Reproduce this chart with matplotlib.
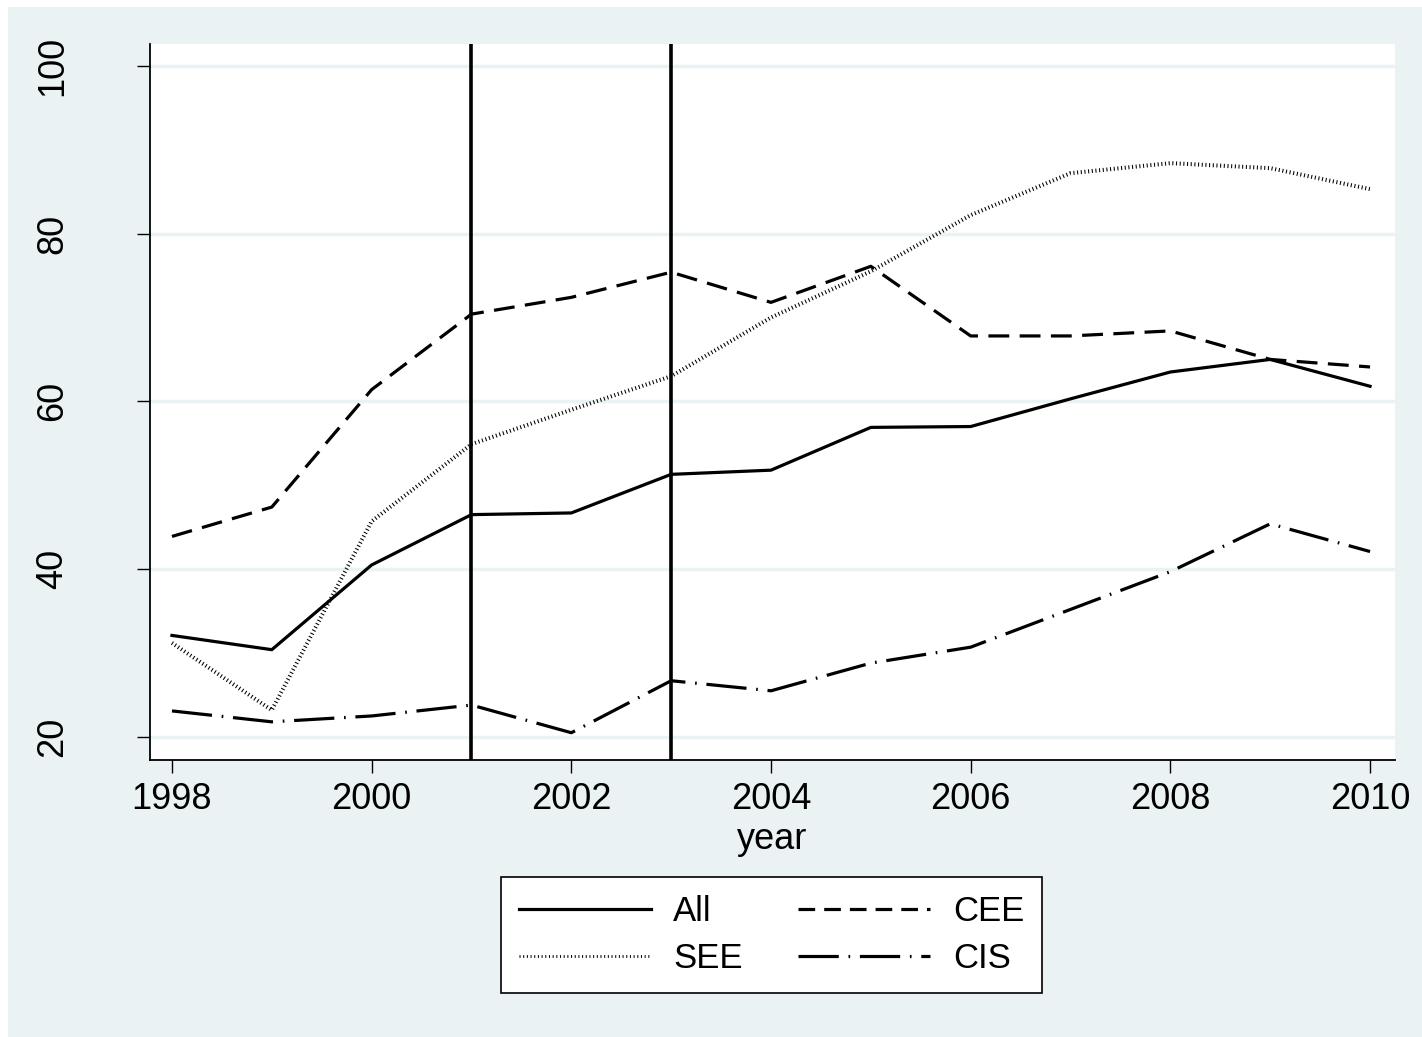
import matplotlib
matplotlib.use("Agg")
import matplotlib.pyplot as plt
from matplotlib.patches import Rectangle
from matplotlib.lines import Line2D

years = list(range(1998, 2011))
all_vals = [32.1, 30.4, 40.5, 46.5, 46.7, 51.3, 51.8, 56.9, 57.0, 60.3, 63.5, 65.0, 61.8]
cee_vals = [43.9, 47.4, 61.4, 70.4, 72.4, 75.4, 71.8, 76.1, 67.8, 67.8, 68.4, 65.0, 64.1]
see_vals = [31.2, 23.2, 45.7, 54.9, 59.0, 63.0, 70.0, 75.5, 82.2, 87.2, 88.4, 87.8, 85.3]
cis_vals = [23.1, 21.8, 22.5, 23.8, 20.5, 26.7, 25.5, 28.8, 30.7, 35.2, 39.7, 45.4, 42.1]
event_years = [2001, 2003]
x_ticks = [1998, 2000, 2002, 2004, 2006, 2008, 2010]
y_ticks = [20, 40, 60, 80, 100]

BG = "#EAF2F3"
plt.rcParams["font.family"] = ["Liberation Sans", "DejaVu Sans"]
plt.rcParams["lines.scale_dashes"] = False

fig = plt.figure(figsize=(14.22, 10.37), dpi=100)
fig.patch.set_facecolor("white")
fig.add_artist(Rectangle((8 / 1422, 0), 1 - 8 / 1422, 1 - 7 / 1037,
                         transform=fig.transFigure, facecolor=BG,
                         edgecolor="none", zorder=-10))

ax = fig.add_axes([150 / 1422, 1 - 760 / 1037, 1245 / 1422, 716 / 1037])
ax.set_facecolor("white")
ax.set_xlim(1997.78, 2010.25)
ax.set_ylim(17.25, 102.6)

for s in ["top", "right"]:
    ax.spines[s].set_visible(False)
for s in ["left", "bottom"]:
    ax.spines[s].set_linewidth(1.3)
    ax.spines[s].set_color("black")

ax.set_yticks(y_ticks)
ax.set_xticks(x_ticks)
ax.set_yticklabels([str(v) for v in y_ticks], rotation=90, va="center")
ax.tick_params(axis="both", labelsize=26, length=9.5, width=1.0)
ax.tick_params(axis="x", pad=6)
ax.tick_params(axis="y", pad=48)
ax.grid(axis="y", color=BG, linewidth=2.5)
ax.set_axisbelow(True)

lw = 2.3
see_style = dict(color="black", lw=2.9, dashes=(0.75, 1.9))
cis_style = dict(color="black", lw=lw, dashes=(29, 7, 1.2, 7))

ax.plot(years, all_vals, color="black", lw=lw, solid_joinstyle="round", label="All")
ax.plot(years, cee_vals, color="black", lw=lw, dashes=(15, 7.5), label="CEE")
ax.plot(years, see_vals, label="SEE", **see_style)
ax.plot(years, cis_vals, label="CIS", **cis_style)

for yv in event_years:
    ax.axvline(yv, color="black", lw=2.6)

ax.set_xlabel("year", fontsize=26, labelpad=4)

handles = [
    Line2D([], [], color="black", lw=2.3),
    Line2D([], [], color="black", lw=2.0, dashes=(0.75, 1.9)),
    Line2D([], [], color="black", lw=2.3, dashes=(12, 6.5)),
    Line2D([], [], color="black", lw=2.3, dashes=(29, 7, 1.2, 7)),
]
labels = ["All", "SEE", "CEE", "CIS"]
leg = fig.legend(handles, labels, ncol=2, loc="center",
                 bbox_to_anchor=(771.5 / 1422, 1 - 935 / 1037),
                 fontsize=25, frameon=True, fancybox=False,
                 edgecolor="black", facecolor="white",
                 handlelength=3.8, handletextpad=0.65, columnspacing=1.6,
                 labelspacing=0.4, borderpad=0.52, borderaxespad=0)
leg.get_frame().set_linewidth(1.2)
leg.get_frame().set_alpha(None)

fig.savefig("out.png", dpi=100, facecolor=fig.get_facecolor())
